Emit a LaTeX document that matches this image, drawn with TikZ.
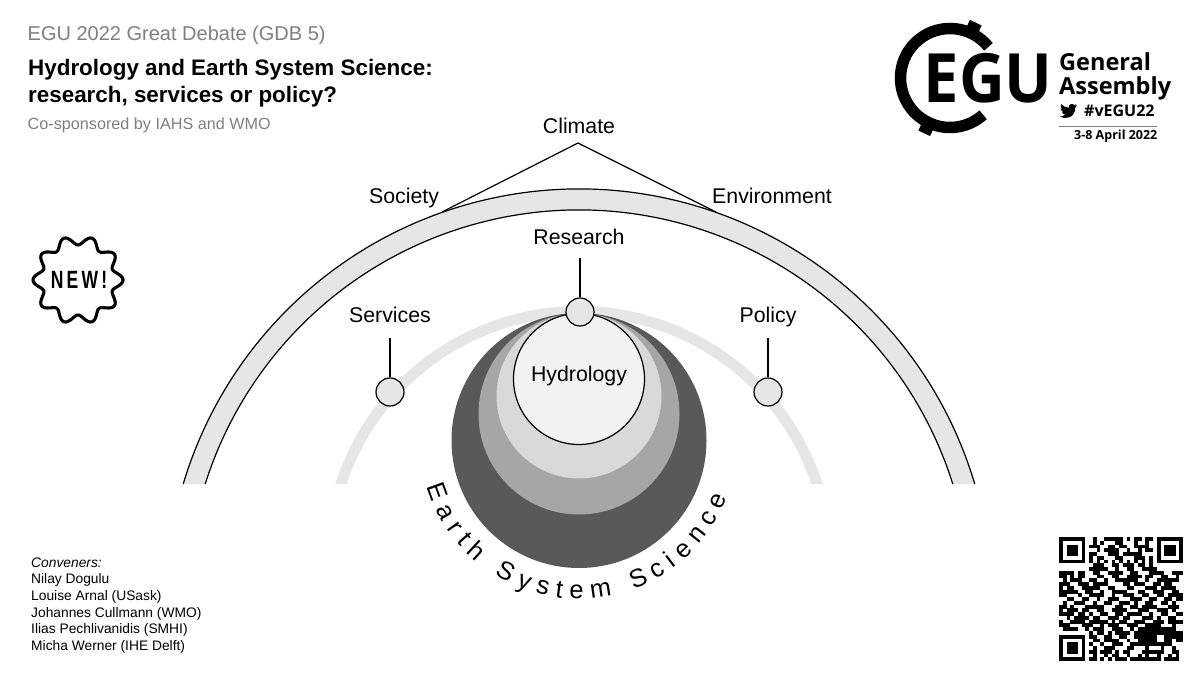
\documentclass[tikz,border=0pt]{standalone}
\usepackage{fontspec}
\setmainfont{Liberation Sans}
\newfontfamily\logofont{Open Sans}
\newfontfamily\badgefont[LetterSpace=13,FakeStretch=.7]{Liberation Sans}
\usetikzlibrary{decorations.text}
\definecolor{bandgray}{HTML}{E7E6E6}
\definecolor{darkgray}{HTML}{595959}
\definecolor{midgray}{HTML}{A6A6A6}
\definecolor{lightgray}{HTML}{D9D9D9}
\definecolor{palegray}{HTML}{F2F2F2}
\definecolor{greytext}{HTML}{7F7F7F}
\begin{document}
\begin{tikzpicture}[x=1pt,y=1pt,
lab/.style={anchor=base,inner sep=0,font=\fontsize{21.3}{25}\selectfont},
head/.style={anchor=base west,inner sep=0,text=greytext},
disc/.style={circle,inner sep=0,minimum size=#1},
dot/.style={disc=28pt,draw,line width=1.2pt,fill=bandgray},
arr/.style={line width=1.7pt},
edge/.style={line width=1.2pt},
logo/.style={inner sep=0,anchor=base west,font=\logofont\bfseries}]
\useasboundingbox (0,0) rectangle (1200,674);
\node[head,font=\fontsize{20}{24}\selectfont](ti) at (27.5,633){EGU 2022 Great Debate (GDB 5)};
\node[inner sep=0,anchor=north west,align=left,font=\fontsize{22.4}{27}\selectfont\bfseries](hd) at (28,615){Hydrology and Earth System Science:\\research, services or policy?};
\node[head,font=\fontsize{16.2}{19}\selectfont](sp) at (27.5,544){Co-sponsored by IAHS and WMO};
\node[inner sep=0,anchor=north west,align=left,font=\fontsize{13.8}{16.6}\selectfont](con) at (31,116.5){\textit{Conveners:}\\Nilay Dogulu\\Louise Arnal (USask)\\Johannes Cullmann (WMO)\\Ilias Pechlivanidis (SMHI)\\Micha Werner (IHE Delft)};
\fill[bandgray] (579,72) ++(16.6:413) arc[start angle=16.6,end angle=163.4,radius=413] -- ++(22,0) arc[start angle=162.48,end angle=17.52,radius=392] -- cycle;
\draw[edge] (579,72) ++(16.6:413) arc[start angle=16.6,end angle=163.4,radius=413];
\draw[edge] (579,72) ++(17.52:392) arc[start angle=17.52,end angle=162.48,radius=392];
\fill[bandgray] (579,112) ++(17.74:256) arc[start angle=17.74,end angle=162.26,radius=256] -- ++(11.5,0) arc[start angle=161.44,end angle=18.56,radius=245] -- cycle;
\coordinate (apex) at (578,531);
\coordinate (cl) at (442,462);
\coordinate (cr) at (716,462);
\draw[edge] (cl)--(apex)--(cr);
\node[lab](clim) at (579,540){Climate};
\node[lab](soc) at (404,470){Society};
\node[lab](env) at (772,470){Environment};
\node[lab](res) at (579,429.5){Research};
\node[lab](ser) at (390,351){Services};
\node[lab](pol) at (768,351){Policy};
\node[disc=255pt,fill=darkgray](ess) at (579,233.5){};
\node[disc=201pt,fill=midgray](ml) at (579,260){};
\node[disc=165pt,fill=lightgray](ll) at (579,278){};
\node[disc=131pt,fill=palegray,draw,edge,font=\fontsize{21.3}{25}\selectfont,text depth=0pt](hyd) at (579,295){\raisebox{11pt}{Hydrology}};
\node[dot](dres) at (580,362){};
\node[dot](dser) at (390,282){};
\node[dot](dpol) at (768,282){};
\coordinate (tres) at (580,416);
\coordinate (tser) at (390,336);
\coordinate (tpol) at (768,336);
\draw[arr] (tres)--(dres);
\draw[arr] (tser)--(dser);
\draw[arr] (tpol)--(dpol);
\path[decorate,decoration={text along path,text align={fit to path},text={|\fontsize{25.5}{30}\selectfont|Earth System Science}}] (579,234) ++(197:159) arc[start angle=197,end angle=339,radius=159];
\draw[line width=3.1pt,line join=round] plot[domain=0:360,samples=161,smooth] ({78+(40.5+4.5*cos(10*\x))*cos(\x)},{394+(39.5+4.5*cos(10*\x))*sin(\x)}) -- cycle;
\node[inner sep=0,font=\badgefont\bfseries\fontsize{25}{28}\selectfont](nw) at (79,394){NEW!};
\draw[line width=11.5pt] (950,596) ++(39:49.5) arc[start angle=39,end angle=312,radius=49.5];
\draw[line width=13pt] (950,596) ++(65:48) -- ++(65:13);
\draw[line width=13pt] (950,596) ++(245:48) -- ++(245:13);
\node[inner sep=0,anchor=base west,font=\fontsize{68}{70}\selectfont\bfseries](egu) at (923.5,571){\logofont\scalebox{.93}[1]{EGU}};
\node[logo,font=\logofont\bfseries\fontsize{23.5}{28}\selectfont](gen) at (1059,603){General};
\node[logo,font=\logofont\bfseries\fontsize{23.5}{28}\selectfont](asm) at (1059,579){Assembly};
\node[logo,font=\logofont\bfseries\fontsize{16}{18}\selectfont](tag) at (1084,557){\#vEGU22};
\node[logo,font=\logofont\bfseries\fontsize{12.5}{15}\selectfont](dat) at (1074,534){3-8 April 2022};
\draw[line width=.8pt,greytext] (1059,548)--(1157,548);
\begin{scope}[shift={(1060,555.5)}]
\fill (0,1.8) .. controls (5,-1) and (15,0) .. (15.3,11) -- (17,13) -- (15,12.4) -- (16.4,14.4) -- (14.4,13.4) .. controls (12.5,15.5) and (8.5,14.5) .. (8.6,10.8) .. controls (5.5,11) and (3,12.3) .. (1.2,14.4) .. controls (0.3,12.6) and (0.8,10.5) .. (2.2,9.4) -- (0.7,9.8) .. controls (0.8,8) and (2,6.8) .. (3.5,6.4) -- (2,6.4) .. controls (2.5,5) and (3.8,4.2) .. (5.2,4.1) .. controls (3.8,2.8) and (2,2) .. (0,1.8) -- cycle;
\end{scope}
\begin{scope}[shift={(1059,137)},x=3.76pt,y=3.76pt]
\foreach \r/\row in {0/{0/7,9/10,12/17,18/19,20/22,23/25,26/33},
1/{0/1,6/7,9/10,11/12,15/17,20/21,23/24,26/27,32/33},
2/{0/1,2/5,6/7,8/11,13/15,16/18,20/24,26/27,28/31,32/33},
3/{0/1,2/5,6/7,10/11,12/16,18/19,21/22,23/25,26/27,28/31,32/33},
4/{0/1,2/5,6/7,8/10,13/16,17/22,26/27,28/31,32/33},
5/{0/1,6/7,8/9,10/12,15/17,20/23,24/25,26/27,32/33},
6/{0/7,8/9,10/11,12/13,14/15,16/17,18/19,20/21,22/23,24/25,26/33},
7/{9/12,14/16,17/20,21/23,24/25},
8/{8/13,15/16,18/20,22/26},
9/{0/4,5/7,9/11,13/17,19/21,24/28,30/33},
10/{0/2,3/4,5/7,10/12,14/16,18/22,23/25,27/29,31/32},
11/{1/2,3/6,8/10,12/13,15/21,23/24,26/32},
12/{0/3,5/8,9/13,17/19,20/23,25/27,28/30},
13/{0/1,2/4,6/11,13/15,18/20,23/26,27/31},
14/{0/5,7/9,11/12,14/18,21/23,25/28,30/32},
15/{0/2,5/6,8/12,14/15,17/20,22/24,26/28,29/33},
16/{2/4,6/8,10/11,13/16,19/22,24/26,28/30,31/33},
17/{1/2,4/7,9/10,12/14,16/19,20/21,23/25,27/29,30/31},
18/{0/2,3/4,7/12,15/17,19/21,22/26,29/32},
19/{0/1,2/5,6/8,10/12,14/18,21/24,26/29,30/31},
20/{0/4,5/7,8/9,11/13,15/17,18/22,24/25,27/29,31/33},
21/{2/3,4/8,9/11,13/16,17/19,22/25,26/27,29/31},
22/{0/1,3/7,8/13,14/15,16/18,20/23,25/28,29/33},
23/{0/3,6/9,11/12,13/16,18/21,23/27,30/31},
24/{1/5,7/8,9/12,14/17,19/20,21/31},
25/{8/9,10/12,13/14,15/19,20/33},
26/{0/7,8/10,12/14,16/18,20/26,28/33},
27/{0/1,6/7,9/11,12/16,18/19,21/26,28/30,31/33},
28/{0/1,2/5,6/7,8/9,11/12,14/17,19/30},
29/{0/1,2/5,6/7,9/10,12/15,18/20,23/24,27/28,30/31},
30/{0/1,2/5,6/7,8/10,11/14,15/16,17/19,22/28,30/32},
31/{0/1,6/7,9/10,12/13,14/16,18/19,21/22,23/24,26/27,29/30,31/32},
32/{0/7,8/10,11/12,13/14,15/18,19/27,28/32}}
\foreach \a/\b in \row \fill (\a,-\r) rectangle (\b,-\r-1.03);
\end{scope}
\end{tikzpicture}
\end{document}
